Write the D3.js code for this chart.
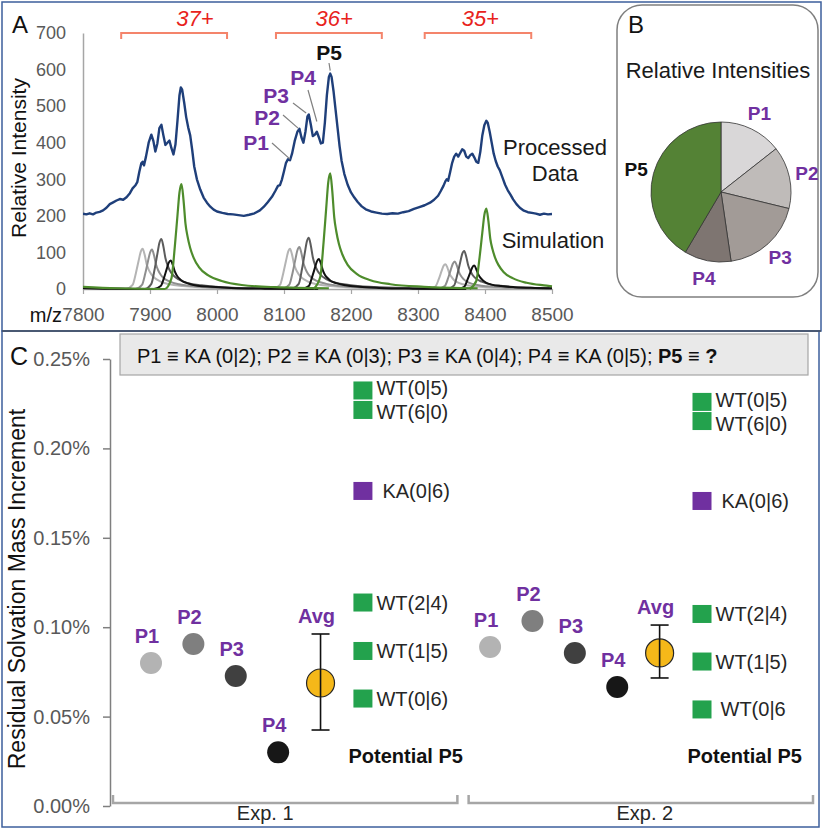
<!DOCTYPE html>
<html><head><meta charset="utf-8">
<script src="https://cdn.jsdelivr.net/npm/d3@7"></script>
<style>
body{margin:0;background:#fff}
svg{display:block;font-family:"Liberation Sans",Arial,Helvetica,sans-serif}
</style>
</head><body>
<svg id="c" width="825" height="832"></svg>
<script>
// ---------------- DATA ----------------
// Panel A
const mzTicks = [7800, 7900, 8000, 8100, 8200, 8300, 8400, 8500];
const intensityTicks = [0, 100, 200, 300, 400, 500, 600, 700];
const chargeStates = ["37+", "36+", "35+"];
const bracketStartMz = [7857, 8088, 8310];
const bracketEndMz = [8015, 8246, 8469];
const chargeLabelMz = [7967, 8175, 8393];

const processed = [
[7800,206],[7805,204],[7810,207],[7815,204],[7820,209],[7825,211],[7830,215],[7835,222],[7840,232],[7845,237],
[7850,242],[7855,246],[7860,244],[7865,251],[7870,262],[7874,275],[7878,283],[7881,292],[7884,320],[7887,344],
[7889,348],[7891,338],[7894,362],[7898,400],[7902,422],[7905,405],[7908,376],[7911,398],[7914,440],[7917,449],
[7920,420],[7923,394],[7926,400],[7929,406],[7932,385],[7935,368],[7938,395],[7941,460],[7944,530],[7946,551],
[7948,545],[7951,510],[7954,470],[7957,442],[7960,420],[7963,380],[7966,335],[7970,300],[7975,272],[7980,250],
[7985,236],[7990,225],[7995,217],[8000,212],[8008,208],[8016,205],[8024,204],[8032,202],[8040,200],[8048,203],
[8056,207],[8064,215],[8070,225],[8076,238],[8082,252],[8087,268],[8091,282],[8094,284],[8097,300],[8100,322],
[8103,345],[8106,355],[8109,352],[8112,370],[8116,405],[8120,430],[8123,438],[8126,415],[8129,400],[8132,430],
[8135,472],[8137,477],[8140,450],[8143,418],[8146,422],[8149,430],[8152,415],[8155,398],[8158,400],[8161,455],
[8164,530],[8167,580],[8169,589],[8171,580],[8174,540],[8177,490],[8180,440],[8183,390],[8186,350],[8190,315],
[8195,285],[8200,264],[8205,250],[8210,238],[8216,226],[8222,218],[8230,212],[8238,209],[8246,206],[8254,205],
[8262,207],[8270,206],[8278,210],[8286,213],[8294,219],[8302,224],[8310,229],[8318,236],[8324,244],[8330,255],
[8334,268],[8338,282],[8341,295],[8343,300],[8345,296],[8348,320],[8351,345],[8354,362],[8357,370],[8360,362],
[8363,372],[8366,382],[8369,378],[8372,362],[8375,358],[8378,366],[8381,370],[8384,360],[8387,348],[8390,345],
[8393,375],[8396,420],[8399,448],[8402,460],[8404,455],[8407,430],[8410,400],[8413,370],[8416,350],[8419,335],
[8422,325],[8426,305],[8430,285],[8434,270],[8438,258],[8442,245],[8447,232],[8452,222],[8458,214],[8464,210],
[8470,208],[8476,206],[8482,203],[8488,206],[8494,204],[8500,205]
];

// Simulated peaks, one segment per charge state (37+, 36+, 35+)
const simP1 = [
 [[7800,2],[7840,1],[7864,0],[7874,11],[7879,44],[7883,77],[7886,101],[7889,110],[7892,94],[7895,68],[7898,53],[7902,40],[7907,30],[7915,21],[7929,13],[7949,8],[7979,4],[8029,2],[8109,1]],
 [[8084,0],[8094,11],[8099,44],[8103,77],[8106,101],[8109,110],[8112,94],[8115,68],[8118,53],[8122,40],[8127,30],[8135,21],[8149,13],[8169,8],[8199,4],[8249,2],[8329,1]],
 [[8316,0],[8326,7],[8331,27],[8335,48],[8338,63],[8341,68],[8344,58],[8347,42],[8350,33],[8354,24],[8359,18],[8367,13],[8381,8],[8401,5],[8431,3],[8481,1],[8500,1]]
];
const simP2 = [
 [[7800,2],[7840,1],[7878,0],[7888,11],[7893,43],[7897,76],[7900,99],[7903,108],[7906,92],[7909,67],[7912,52],[7916,39],[7921,29],[7929,21],[7943,13],[7963,8],[7993,4],[8043,2],[8123,1]],
 [[8098,0],[8108,12],[8113,46],[8117,81],[8120,106],[8123,115],[8126,98],[8129,71],[8132,55],[8136,41],[8141,31],[8149,22],[8163,14],[8183,9],[8213,5],[8263,2],[8343,1]],
 [[8330,0],[8340,8],[8345,30],[8349,53],[8352,69],[8355,75],[8358,64],[8361,47],[8364,36],[8368,27],[8373,20],[8381,14],[8395,9],[8415,6],[8445,3],[8495,1],[8500,1]]
];
const simP3 = [
 [[7800,2],[7840,1],[7892,0],[7902,14],[7907,55],[7911,96],[7914,126],[7917,137],[7920,116],[7923,85],[7926,66],[7930,49],[7935,37],[7943,26],[7957,16],[7977,10],[8007,5],[8057,2],[8137,1]],
 [[8112,0],[8122,14],[8127,56],[8131,98],[8134,129],[8137,140],[8140,119],[8143,87],[8146,67],[8150,50],[8155,38],[8163,27],[8177,17],[8197,11],[8227,6],[8277,3],[8357,1]],
 [[8344,0],[8354,10],[8359,42],[8363,73],[8366,96],[8369,104],[8372,88],[8375,64],[8378,50],[8382,37],[8387,28],[8395,20],[8409,12],[8429,8],[8459,4],[8500,2]]
];
const simP4 = [
 [[7800,3],[7840,1],[7906,0],[7916,8],[7921,31],[7925,55],[7928,72],[7931,78],[7934,66],[7937,48],[7940,37],[7944,28],[7949,21],[7957,15],[7971,9],[7991,6],[8021,3],[8071,1],[8151,0]],
 [[8127,0],[8137,8],[8142,33],[8146,57],[8149,75],[8152,82],[8155,70],[8158,51],[8161,39],[8165,30],[8170,22],[8178,16],[8192,10],[8212,6],[8242,3],[8292,1],[8372,0]],
 [[8359,0],[8369,6],[8374,26],[8378,45],[8381,59],[8384,64],[8387,54],[8390,40],[8393,31],[8397,23],[8402,17],[8410,12],[8424,8],[8444,5],[8474,3],[8500,2]]
];
const simP5 = [
 [[7800,6],[7850,2],[7922,0],[7932,29],[7937,115],[7941,201],[7944,264],[7947,287],[7950,244],[7953,178],[7956,144],[7960,112],[7965,86],[7973,60],[7987,37],[8007,22],[8037,11],[8087,5],[8167,2]],
 [[8144,0],[8154,32],[8159,126],[8163,221],[8166,291],[8169,316],[8172,269],[8175,196],[8178,158],[8182,123],[8187,95],[8195,66],[8209,41],[8229,24],[8259,13],[8309,6],[8389,2]],
 [[8377,0],[8387,22],[8392,88],[8396,154],[8399,202],[8402,220],[8405,187],[8408,136],[8411,110],[8415,86],[8420,66],[8428,46],[8442,29],[8462,17],[8492,9],[8500,7]]
];
const simSeries = [simP1, simP2, simP3, simP4, simP5];

// annotations of the 36+ cluster: label, m/z, intensity at the leader end
const annoLabels = ["P1", "P2", "P3", "P4", "P5"];
const annoMz = [8109, 8121, 8133, 8149, 8169];
const annoVal = [355, 440, 481, 458, 597];

// Panel B
const pieLabels = ["P1", "P2", "P3", "P4", "P5"];
const pieValues = [14.4, 14.4, 18.9, 10.8, 41.5];

// Panel C (values in %)
const groups = ["Exp. 1", "Exp. 2"];
const slots = ["e1P1","e1P2","e1P3","e1P4","e1Avg","e1Cand","gap1","gap2","e2P1","e2P2","e2P3","e2P4","e2Avg","e2Cand"];
const peakNames = ["P1", "P2", "P3", "P4"];
const exp1Peaks = [0.0800, 0.0906, 0.0727, 0.0300];
const exp2Peaks = [0.0889, 0.1035, 0.0856, 0.0666];
const avgValues = [0.0688, 0.0856];
const avgLow = [0.0425, 0.0716];
const avgHigh = [0.0962, 0.1012];
const candidateLabels1 = ["WT(0|5)", "WT(6|0)", "KA(0|6)", "WT(2|4)", "WT(1|5)", "WT(0|6)"];
const candidateLabels2 = ["WT(0|5)", "WT(6|0)", "KA(0|6)", "WT(2|4)", "WT(1|5)", "WT(0|6"];
const candidateType = ["WT", "WT", "KA", "WT", "WT", "WT"];
const candidateExp1 = [0.2324, 0.2215, 0.1762, 0.1138, 0.0867, 0.0601];
const candidateExp2 = [0.2260, 0.2153, 0.1706, 0.1074, 0.0808, 0.0540];
const yTicksC = [0, 0.05, 0.10, 0.15, 0.20, 0.25];

// ---------------- STYLE ----------------
const purple = "#7030a0";
const simColors = ["#b4b4b4", "#8f8f8f", "#5c5c5c", "#111111", "#4e8c2c"];
const pieColors = ["#d9d7d8", "#bfbbb9", "#a29b97", "#7e7571", "#548235"];
const dotColors = ["#b3b3b3", "#7f7f7f", "#404040", "#171717"];
const typeColor = {WT: "#23a24d", KA: "#7030a0"};

const svg = d3.select("#c");

// frames
svg.append("rect").attr("x",2).attr("y",2).attr("width",819).attr("height",329)
  .attr("fill","none").attr("stroke","#3d5f9c").attr("stroke-width",1.5);
svg.append("rect").attr("x",2).attr("y",331).attr("width",817).attr("height",496)
  .attr("fill","none").attr("stroke","#3d5f9c").attr("stroke-width",1.5);
svg.append("line").attr("x1",2).attr("x2",821).attr("y1",331).attr("y2",331)
  .attr("stroke","#4b5563").attr("stroke-width",1.5);

// ---------------- PANEL A ----------------
const xA = d3.scaleLinear().domain([7800, 8500]).range([83, 552]);
const yA = d3.scaleLinear().domain([0, 700]).range([289, 33]);
const gA = svg.append("g");

svg.append("defs").append("clipPath").attr("id","clipA")
  .append("rect").attr("x",83).attr("y",20).attr("width",470).attr("height",272);

const xAxisA = gA.append("g").attr("transform","translate(0,289)")
  .call(d3.axisBottom(xA).tickValues(mzTicks).tickSize(5).tickSizeOuter(0).tickPadding(14).tickFormat(d3.format("d")));
xAxisA.select(".domain").attr("stroke","#a6a6a6").attr("stroke-width",1.5);
xAxisA.selectAll(".tick line").attr("stroke","#a6a6a6").attr("stroke-width",1.2);
xAxisA.selectAll("text").attr("font-size",19).attr("fill","#595959").attr("font-family",null);

const yAxisA = gA.append("g").attr("transform","translate(83,0)")
  .call(d3.axisLeft(yA).tickValues(intensityTicks).tickSize(0).tickSizeOuter(0).tickPadding(17));
yAxisA.select(".domain").attr("stroke","#a6a6a6").attr("stroke-width",1.5);
yAxisA.selectAll("text").attr("font-size",18).attr("fill","#595959").attr("font-family",null);

gA.append("text").attr("x",62).attr("y",322).attr("text-anchor","end")
  .attr("font-size",20).attr("fill","#111").text("m/z");
gA.append("text").attr("transform","translate(26,158) rotate(-90)").attr("text-anchor","middle")
  .attr("font-size",21).attr("fill","#111").text("Relative Intensity");
gA.append("text").attr("x",12).attr("y",33).attr("font-size",24).attr("fill","#111").text("A");

const plotA = gA.append("g").attr("clip-path","url(#clipA)");
const lineA = d3.line().x(d => xA(d[0])).y(d => yA(d[1])).curve(d3.curveMonotoneX);

simSeries.forEach((series, i) => {
  series.forEach(seg => {
    plotA.append("path").attr("d", lineA(seg)).attr("fill","none")
      .attr("stroke", simColors[i]).attr("stroke-width", i === 4 ? 2.2 : 2);
  });
});
plotA.append("path").attr("d", d3.line().x(d => xA(d[0])).y(d => yA(d[1])).curve(d3.curveLinear)(processed))
  .attr("fill","none").attr("stroke","#1f3f7a").attr("stroke-width",2.4).attr("stroke-linejoin","round");

// charge state brackets
chargeStates.forEach((c, i) => {
  const x0 = xA(bracketStartMz[i]), x1 = xA(bracketEndMz[i]);
  gA.append("path").attr("d", `M${x0},39 L${x0},33 L${x1},33 L${x1},39`)
    .attr("fill","none").attr("stroke","#f4846b").attr("stroke-width",2);
  gA.append("text").attr("x", xA(chargeLabelMz[i])).attr("y", 26).attr("text-anchor","middle")
    .attr("font-size",22).attr("font-style","italic").attr("fill","#e8221c").text(c);
});

// annotations
const annoLabelPos = [[256,150],[267,125],[276,103],[303,85],[329,60]];
const annoLineStart = [[272,143],[283,115],[293,103],[308,90],[329,63]];
annoLabels.forEach((l, i) => {
  gA.append("line").attr("x1", annoLineStart[i][0]).attr("y1", annoLineStart[i][1])
    .attr("x2", xA(annoMz[i])).attr("y2", yA(annoVal[i]))
    .attr("stroke","#808080").attr("stroke-width",1.2);
  gA.append("text").attr("x", annoLabelPos[i][0]).attr("y", annoLabelPos[i][1]).attr("text-anchor","middle")
    .attr("font-size",21).attr("font-weight","bold").attr("fill", i === 4 ? "#111" : purple).text(l);
});

gA.append("text").attr("x",555).attr("y",155).attr("text-anchor","middle").attr("font-size",22).attr("fill","#1a1a1a").text("Processed");
gA.append("text").attr("x",555).attr("y",181).attr("text-anchor","middle").attr("font-size",22).attr("fill","#1a1a1a").text("Data");
gA.append("text").attr("x",553).attr("y",248).attr("text-anchor","middle").attr("font-size",22).attr("fill","#1a1a1a").text("Simulation");

// ---------------- PANEL B ----------------
const gB = svg.append("g");
gB.append("rect").attr("x",617).attr("y",5).attr("width",201).attr("height",292).attr("rx",25)
  .attr("fill","#fff").attr("stroke","#7f7f7f").attr("stroke-width",1.5);
gB.append("text").attr("x",628).attr("y",33).attr("font-size",24).attr("fill","#111").text("B");
gB.append("text").attr("x",718).attr("y",78).attr("text-anchor","middle").attr("font-size",22).attr("fill","#1a1a1a").text("Relative Intensities");

const pie = d3.pie().sort(null).value(d => d)(pieValues);
const arc = d3.arc().innerRadius(0).outerRadius(70);
const labelArc = d3.arc().innerRadius(88).outerRadius(88);
const gPie = gB.append("g").attr("transform","translate(721,192)");
gPie.selectAll("path").data(pie).join("path").attr("d", arc)
  .attr("fill", (d, i) => pieColors[i]).attr("stroke","#333").attr("stroke-width",0.8);
gPie.selectAll("text").data(pie).join("text")
  .attr("transform", d => `translate(${labelArc.centroid(d)})`)
  .attr("text-anchor","middle").attr("dy","0.36em")
  .attr("font-size",19).attr("font-weight","bold")
  .attr("fill", (d, i) => i === 4 ? "#111" : purple)
  .text((d, i) => pieLabels[i]);

// ---------------- PANEL C ----------------
const gC = svg.append("g");
const yC = d3.scaleLinear().domain([0, 0.25]).range([806, 359]);
const xSlot = d3.scalePoint().domain(slots).range([151, 702]);
const xGroup = d3.scaleBand().domain(groups).range([112, 814]).paddingInner(0.026);

gC.append("text").attr("x",10).attr("y",365).attr("font-size",25).attr("fill","#111").text("C");

const yAxisC = gC.append("g").attr("transform","translate(110,0)")
  .call(d3.axisLeft(yC).tickValues(yTicksC).tickSize(7).tickSizeOuter(0).tickPadding(13)
    .tickFormat(d => d.toFixed(2) + "%"));
yAxisC.select(".domain").attr("stroke","#7f7f7f").attr("stroke-width",1.5);
yAxisC.selectAll(".tick line").attr("stroke","#7f7f7f").attr("stroke-width",1.5);
yAxisC.selectAll("text").attr("font-size",20).attr("fill","#595959").attr("font-family",null);

gC.append("text").attr("transform","translate(25,589) rotate(-90)").attr("text-anchor","middle")
  .attr("font-size",23).attr("fill","#111").text("Residual Solvation Mass Increment");

// header box
gC.append("rect").attr("x",120).attr("y",334).attr("width",688).attr("height",41)
  .attr("fill","#e9e9e9").attr("stroke","#a6a6a6").attr("stroke-width",1.2);
const hdr = gC.append("text").attr("x",137).attr("y",363).attr("font-size",20).attr("fill","#111");
hdr.append("tspan").text("P1 \u2261 KA (0|2); P2 \u2261 KA (0|3); P3 \u2261 KA (0|4); P4 \u2261 KA (0|5); ");
hdr.append("tspan").attr("font-weight","bold").text("P5 \u2261 ?");

// group brackets
groups.forEach((g, gi) => {
  const x0 = xGroup(g) + 1, x1 = xGroup(g) + xGroup.bandwidth() - 1;
  gC.append("path").attr("d", `M${x0},795 L${x0},803 L${x1},803 L${x1},795`)
    .attr("fill","none").attr("stroke","#a6a6a6").attr("stroke-width",2.5);
  gC.append("text").attr("x", xGroup(g) + xGroup.bandwidth() / 2 + (gi === 0 ? -20 : 4)).attr("y",820)
    .attr("text-anchor","middle").attr("font-size",20).attr("fill","#262626").text(g);
});

const expData = [
  {pre: "e1", peaks: exp1Peaks, cand: candidateExp1, candLab: candidateLabels1},
  {pre: "e2", peaks: exp2Peaks, cand: candidateExp2, candLab: candidateLabels2}
];
// small vertical nudges so the two tightly stacked labels do not collide
const candLabelNudge = [-2, 2.5, 0, 0, 0, 0];
expData.forEach((e, ei) => {
  // peak dots
  e.peaks.forEach((v, i) => {
    const cx = xSlot(e.pre + peakNames[i]), cy = yC(v);
    gC.append("circle").attr("cx", cx).attr("cy", cy).attr("r", 11).attr("fill", dotColors[i]);
    gC.append("text").attr("x", cx - 4).attr("y", cy - 20).attr("text-anchor","middle")
      .attr("font-size",20).attr("font-weight","bold").attr("fill", purple).text(peakNames[i]);
  });
  // average with error bar
  const ax = xSlot(e.pre + "Avg");
  const yLo = yC(avgLow[ei]), yHi = yC(avgHigh[ei]);
  gC.append("line").attr("x1", ax).attr("x2", ax).attr("y1", yLo).attr("y2", yHi).attr("stroke","#111").attr("stroke-width",1.6);
  [yLo, yHi].forEach(yy => gC.append("line").attr("x1", ax - 9).attr("x2", ax + 9).attr("y1", yy).attr("y2", yy)
    .attr("stroke","#111").attr("stroke-width",1.6));
  gC.append("circle").attr("cx", ax).attr("cy", yC(avgValues[ei])).attr("r", 14)
    .attr("fill","#f5b819").attr("stroke","#262626").attr("stroke-width",1.2);
  gC.append("line").attr("x1", ax).attr("x2", ax).attr("y1", yC(avgValues[ei]) - 14).attr("y2", yC(avgValues[ei]) + 14)
    .attr("stroke","#111").attr("stroke-width",1.6);
  gC.append("text").attr("x", ax - 4).attr("y", yHi - 11).attr("text-anchor","middle")
    .attr("font-size",20).attr("font-weight","bold").attr("fill", purple).text("Avg");
  // candidates
  const sx = xSlot(e.pre + "Cand");
  e.cand.forEach((v, i) => {
    const t = candidateType[i];
    gC.append("rect").attr("x", sx - 9.5).attr("y", yC(v) - 9).attr("width", 19).attr("height", 18)
      .attr("fill", typeColor[t]);
    gC.append("text").attr("x", sx + 9.5 + (t === "KA" ? 10 : (ei === 1 && i === 5 ? 9 : 4)))
      .attr("y", yC(v) + 7 + candLabelNudge[i])
      .attr("font-size",20).attr("fill","#262626").text(e.candLab[i]);
  });
  gC.append("text").attr("x", sx + 100).attr("y", 763).attr("text-anchor","end")
    .attr("font-size",20).attr("font-weight","bold").attr("fill","#111").text("Potential P5");
});
</script>
</body></html>
